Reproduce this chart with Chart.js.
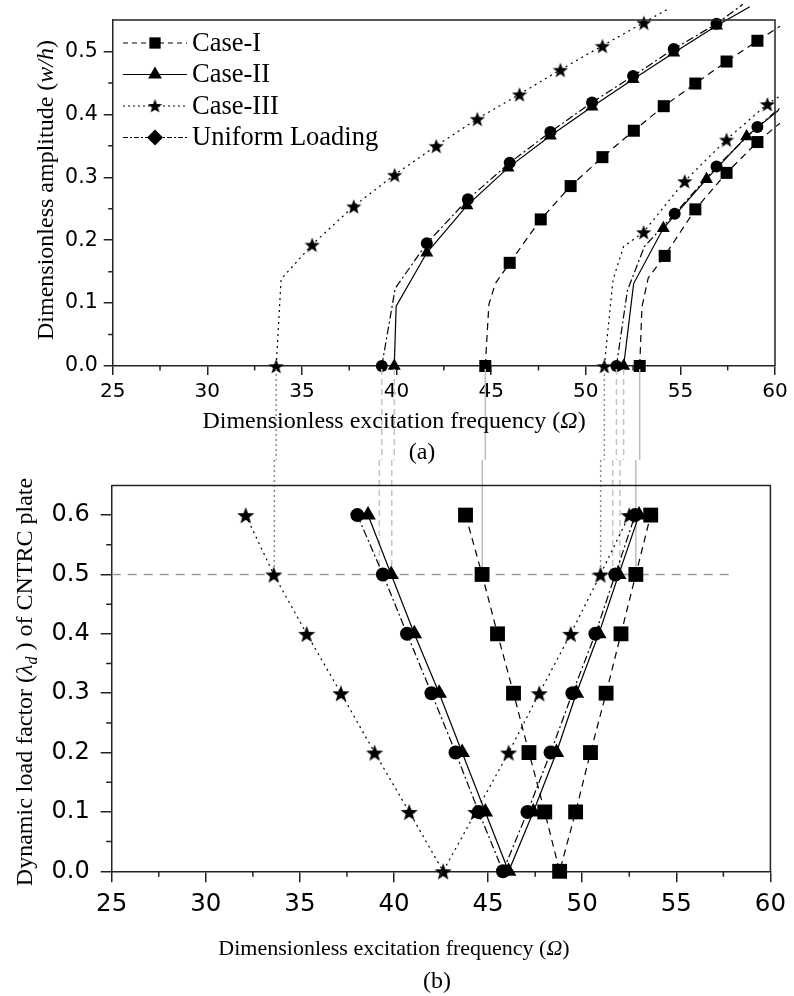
<!DOCTYPE html>
<html>
<head>
<meta charset="utf-8">
<script src="https://cdn.jsdelivr.net/npm/chart.js@4.4.1/dist/chart.umd.min.js"></script>
<style>
  html, body { margin: 0; padding: 0; background: #fff; }
  #wrap { position: relative; width: 794px; height: 996px; background: #fff; }
  canvas { position: absolute; left: 0; display: block; }
  #chartA { top: 0; }
  #chartB { top: 460px; }
</style>
</head>
<body>
<div id="wrap">
  <canvas id="chartA" width="794" height="472"></canvas>
  <canvas id="chartB" width="794" height="536"></canvas>
</div>
<script>
// (a) frequency-response curves, each point is [Ω, w/h, symbol shown]
// points with 0 are just curve nodes between the computed samples
const caseI_upper = [[44.69, 0, 1], [44.88, 0.098, 0], [45.22, 0.131, 0], [45.98, 0.164, 1], [47.62, 0.233, 1], [49.2, 0.286, 1], [50.88, 0.332, 1], [52.54, 0.374, 1], [54.12, 0.413, 1], [55.79, 0.449, 1], [57.44, 0.484, 1], [59.07, 0.517, 1], [60.26, 0.54, 0]];
const caseI_lower = [[52.85, 0, 1], [52.97, 0.094, 0], [53.3, 0.14, 0], [54.17, 0.175, 1], [55.79, 0.249, 1], [57.44, 0.307, 1], [59.07, 0.356, 1], [60.26, 0.386, 0]];
const caseII_upper = [[39.88, 0, 1], [39.98, 0.095, 0], [41.6, 0.18, 1], [43.72, 0.255, 1], [45.89, 0.315, 1], [48.13, 0.366, 1], [50.33, 0.412, 1], [52.5, 0.456, 1], [54.65, 0.498, 1], [56.91, 0.541, 1], [58.67, 0.571, 0]];
const caseII_lower = [[52.0, 0, 1], [52.53, 0.131, 0], [54.1, 0.219, 1], [56.38, 0.297, 1], [58.5, 0.365, 1], [60.2, 0.407, 0]];
const caseIII_upper = [[33.64, 0, 1], [33.9, 0.138, 0], [35.54, 0.193, 1], [37.74, 0.254, 1], [39.9, 0.304, 1], [42.1, 0.35, 1], [44.27, 0.393, 1], [46.5, 0.432, 1], [48.66, 0.471, 1], [50.88, 0.509, 1], [53.07, 0.546, 1], [54.44, 0.569, 0]];
const caseIII_lower = [[50.98, 0, 1], [51.44, 0.137, 0], [52.0, 0.19, 0], [53.06, 0.213, 1], [55.23, 0.294, 1], [57.44, 0.36, 1], [59.6, 0.4165, 1], [60.26, 0.429, 0]];
const uniform_upper = [[39.22, 0, 1], [39.93, 0.1235, 0], [41.6, 0.195, 1], [43.77, 0.265, 1], [45.98, 0.323, 1], [48.13, 0.372, 1], [50.33, 0.419, 1], [52.5, 0.461, 1], [54.65, 0.504, 1], [56.91, 0.544, 1], [58.3, 0.575, 0]];
const uniform_lower = [[51.62, 0, 1], [52.2, 0.12, 0], [53.1, 0.19, 0], [54.7, 0.242, 1], [56.91, 0.317, 1], [59.07, 0.38, 1], [60.26, 0.41, 0]];

// (b) instability region boundaries
const lambdaD = [0, 0.1, 0.2, 0.3, 0.4, 0.5, 0.6];
const caseI_left = [48.8, 48.01, 47.17, 46.35, 45.5, 44.68, 43.8];
const caseI_right = [48.8, 49.65, 50.44, 51.27, 52.06, 52.85, 53.64];
const caseII_left = [46.09, 44.85, 43.62, 42.4, 41.08, 39.85, 38.62];
const caseII_right = [46.09, 47.4, 48.63, 49.69, 50.88, 51.94, 53.02];
const caseIII_left = [42.61, 40.81, 38.97, 37.18, 35.36, 33.61, 32.12];
const caseIII_right = [42.61, 44.35, 46.09, 47.72, 49.39, 50.97, 52.5];
const uniform_left = [45.79, 44.5, 43.27, 41.99, 40.69, 39.41, 38.05];
const uniform_right = [45.79, 47.09, 48.32, 49.48, 50.7, 51.76, 52.81];

// onset frequencies of (a) carried down to λd = 0.5 in (b)
const onsetOmega = [33.64, 39.22, 39.88, 44.69, 50.98, 51.62, 52.0, 52.85];
const onsetCase = ['III', 'U', 'II', 'I', 'III', 'U', 'II', 'I'];
const refLambda = 0.5;
const refOmegaEnd = 58;

const legendNames = ['Case-I', 'Case-II', 'Case-III', 'Uniform Loading'];
const legendKeys = ['I', 'II', 'III', 'U'];

const SANS = '"DejaVu Sans", sans-serif';
const SERIF = '"Liberation Serif", "Times New Roman", serif';
const AXIS = '#222';
const SPLIT = 460; // page row where the lower canvas starts

// filled five point star, Chart.js has only the line "star"
function starImage(size) {
  const c = document.createElement('canvas');
  c.width = c.height = size;
  const g = c.getContext('2d');
  const R = size / 2, r = R * 0.42;
  g.beginPath();
  for (let i = 0; i < 10; i++) {
    const rad = i % 2 ? r : R;
    const ang = -Math.PI / 2 + i * Math.PI / 5;
    g.lineTo(R + rad * Math.cos(ang), R + 1 + rad * Math.sin(ang));
  }
  g.closePath();
  g.fillStyle = '#000';
  g.fill();
  return c;
}

const lineStyle = {
  I: { dash: [7, 5], shape: 'rect' },
  II: { dash: [], shape: 'triangle' },
  III: { dash: [2, 4], shape: 'star' },
  U: { dash: [8, 3, 2, 3], shape: 'circle' }
};
const connectorStyle = {
  I: { color: '#bdbdbd', dash: [] },
  II: { color: '#c4c4c4', dash: [6, 4] },
  III: { color: '#8c8c8c', dash: [2, 3] },
  U: { color: '#c4c4c4', dash: [6, 4] }
};

const sizesA = { rect: 8.5, triangle: 7.5, circle: 6, star: starImage(16) };
const sizesB = { rect: 10.5, triangle: 9, circle: 7, star: starImage(18) };

function curveDataset(points, key, sizes) {
  const st = lineStyle[key];
  const isStar = st.shape === 'star';
  return {
    data: points.map(p => ({ x: p[0], y: p[1] })),
    showLine: true,
    tension: 0,
    borderColor: '#000',
    borderWidth: 1.2,
    borderDash: st.dash,
    pointStyle: isStar ? sizes.star : st.shape,
    pointRadius: ctx => (points[ctx.dataIndex] && points[ctx.dataIndex][2]) ? (isStar ? 8 : sizes[st.shape]) : 0,
    pointBackgroundColor: '#000',
    pointBorderColor: '#000',
    pointBorderWidth: 0,
    clip: false
  };
}

function vShape(left, right) {
  const pts = [];
  for (let i = lambdaD.length - 1; i >= 0; i--) pts.push([left[i], lambdaD[i], 1]);
  for (let i = 1; i < lambdaD.length; i++) pts.push([right[i], lambdaD[i], 1]);
  return pts;
}

// text made of pieces in different fonts, centred on (cx, cy)
function richText(ctx, parts, cx, cy, rot, size) {
  ctx.save();
  ctx.translate(cx, cy);
  if (rot) ctx.rotate(rot);
  ctx.textAlign = 'left';
  ctx.textBaseline = 'alphabetic';
  ctx.fillStyle = '#000';
  let w = 0;
  parts.forEach(p => { ctx.font = p.font; p.w = ctx.measureText(p.t).width; w += p.w; });
  let x = -w / 2;
  parts.forEach(p => {
    ctx.font = p.font;
    ctx.fillText(p.t, x, size * 0.33 + (p.dy || 0));
    x += p.w;
  });
  ctx.restore();
}

function strokeConnector(ctx, x, y1, y2, key) {
  const s = connectorStyle[key];
  ctx.save();
  ctx.strokeStyle = s.color;
  ctx.lineWidth = 1.5;
  ctx.setLineDash(s.dash);
  ctx.beginPath();
  ctx.moveTo(x, y1);
  ctx.lineTo(x, y2);
  ctx.stroke();
  ctx.restore();
}

// top and right edges plus the short minor ticks between labelled ones
function drawFrame(chart, minorX, minorY, len) {
  const { ctx, chartArea: a, scales: { x, y } } = chart;
  ctx.save();
  ctx.strokeStyle = AXIS;
  ctx.lineWidth = 1.5;
  ctx.beginPath();
  ctx.moveTo(a.left, a.top);
  ctx.lineTo(a.right, a.top);
  ctx.lineTo(a.right, a.bottom);
  ctx.stroke();
  ctx.beginPath();
  minorX.forEach(v => {
    const px = x.getPixelForValue(v);
    ctx.moveTo(px, a.bottom);
    ctx.lineTo(px, a.bottom + len);
  });
  minorY.forEach(v => {
    const py = y.getPixelForValue(v);
    ctx.moveTo(a.left, py);
    ctx.lineTo(a.left - len, py);
  });
  ctx.stroke();
  ctx.restore();
}

const minorOmega = [27.5, 32.5, 37.5, 42.5, 47.5, 52.5, 57.5];

function axisOptions(min, max, step, fontSize, pad, tickLen, fit, isY) {
  return {
    type: 'linear',
    min, max,
    ticks: {
      stepSize: step,
      includeBounds: false,
      autoSkip: false,
      maxRotation: 0,
      color: '#000',
      padding: pad,
      font: { family: SANS, size: fontSize },
      callback: v => isY ? v.toFixed(1) : String(v)
    },
    grid: { drawOnChartArea: false, drawTicks: true, tickLength: tickLen, color: AXIS, lineWidth: 1.5 },
    border: { display: true, color: AXIS, width: 1.5 },
    afterFit: fit
  };
}

const chartA = new Chart(document.getElementById('chartA'), {
  type: 'scatter',
  data: {
    datasets: [
      curveDataset(caseI_upper, 'I', sizesA),
      curveDataset(caseI_lower, 'I', sizesA),
      curveDataset(uniform_upper, 'U', sizesA),
      curveDataset(uniform_lower, 'U', sizesA),
      curveDataset(caseII_upper, 'II', sizesA),
      curveDataset(caseII_lower, 'II', sizesA),
      curveDataset(caseIII_upper, 'III', sizesA),
      curveDataset(caseIII_lower, 'III', sizesA)
    ]
  },
  options: {
    responsive: false,
    animation: false,
    events: [],
    layout: { padding: { top: 20, right: 19, left: 0, bottom: 0 } },
    plugins: { legend: { display: false }, tooltip: { enabled: false } },
    scales: {
      x: axisOptions(25, 60, 5, 20, 5, 9, s => { s.height = 472 - 366; }, false),
      y: axisOptions(0, 0.55, 0.1, 20.5, 6, 9, s => { s.width = 112.7; }, true)
    }
  },
  plugins: [{
    id: 'decorA',
    afterDraw(chart) {
      const { ctx, scales: { x, y } } = chart;
      const y0 = y.getPixelForValue(0);
      onsetOmega.forEach((w, i) => strokeConnector(ctx, x.getPixelForValue(w), y0 + 3, SPLIT, onsetCase[i]));
      drawFrame(chart, minorOmega, [0.05, 0.15, 0.25, 0.35, 0.45], 4.5);

      richText(ctx, [
        { t: 'Dimensionless excitation frequency (', font: '24px ' + SERIF },
        { t: 'Ω', font: 'italic 24px ' + SERIF },
        { t: ')', font: '24px ' + SERIF }
      ], 394, 420, 0, 24);
      richText(ctx, [{ t: '(a)', font: '24px ' + SERIF }], 422, 451, 0, 24);
      richText(ctx, [
        { t: 'Dimensionless amplitude (', font: '24px ' + SERIF },
        { t: 'w/h', font: 'italic 24px ' + SERIF },
        { t: ')', font: '24px ' + SERIF }
      ], 45, 190, -Math.PI / 2, 24);

      // legend: line sample with the symbol in the middle
      const legendShape = { I: 'rect', II: 'triangle', III: 'star', U: 'rectRot' };
      legendKeys.forEach((k, i) => {
        const ly = 43 + i * 31.5;
        ctx.save();
        ctx.strokeStyle = '#000';
        ctx.lineWidth = 1.2;
        ctx.setLineDash(k === 'I' ? [5, 4] : k === 'III' ? [2, 3] : k === 'U' ? [5, 2, 2, 2] : []);
        ctx.beginPath();
        ctx.moveTo(123, ly);
        ctx.lineTo(187, ly);
        ctx.stroke();
        ctx.setLineDash([]);
        ctx.fillStyle = '#000';
        if (k === 'III') {
          ctx.drawImage(starImage(15), 155 - 7.5, ly - 8);
        } else {
          Chart.helpers.drawPoint(ctx, { pointStyle: legendShape[k], radius: 8, rotation: 0, borderWidth: 0 }, 155, ly);
        }
        ctx.font = '26.5px ' + SERIF;
        ctx.textBaseline = 'middle';
        ctx.textAlign = 'left';
        ctx.fillText(legendNames[i], 192, ly + 1);
        ctx.restore();
      });
    }
  }]
});

const chartB = new Chart(document.getElementById('chartB'), {
  type: 'scatter',
  data: {
    datasets: [
      {
        data: [{ x: 25, y: refLambda }, { x: refOmegaEnd, y: refLambda }],
        showLine: true,
        borderColor: '#9a9a9a',
        borderWidth: 1.5,
        borderDash: [9, 7],
        pointRadius: 0,
        order: 10
      },
      curveDataset(vShape(caseI_left, caseI_right), 'I', sizesB),
      curveDataset(vShape(caseIII_left, caseIII_right), 'III', sizesB),
      curveDataset(vShape(uniform_left, uniform_right), 'U', sizesB),
      curveDataset(vShape(caseII_left, caseII_right), 'II', sizesB)
    ]
  },
  options: {
    responsive: false,
    animation: false,
    events: [],
    layout: { padding: { top: 5, right: 18.3, left: 0, bottom: 0 } },
    plugins: { legend: { display: false }, tooltip: { enabled: false } },
    scales: {
      x: axisOptions(25, 60, 5, 24.5, 8, 11, s => { s.height = 124.7; }, false),
      y: axisOptions(0, 0.65, 0.1, 24, 11, 11, s => { s.width = 111.7; }, true)
    }
  },
  plugins: [{
    id: 'decorB',
    beforeDatasetsDraw(chart) {
      const { ctx, scales: { x, y } } = chart;
      const yRef = y.getPixelForValue(refLambda);
      onsetOmega.forEach((w, i) => strokeConnector(ctx, x.getPixelForValue(w), 0, yRef, onsetCase[i]));
    },
    afterDraw(chart) {
      const { ctx } = chart;
      drawFrame(chart, minorOmega, [0.05, 0.15, 0.25, 0.35, 0.45, 0.55], 5.5);
      richText(ctx, [
        { t: 'Dimensionless excitation frequency (', font: '22px ' + SERIF },
        { t: 'Ω', font: 'italic 22px ' + SERIF },
        { t: ')', font: '22px ' + SERIF }
      ], 394, 488, 0, 22);
      richText(ctx, [{ t: '(b)', font: '24px ' + SERIF }], 437, 520, 0, 24);
      richText(ctx, [
        { t: 'Dynamic load factor (', font: '24px ' + SERIF },
        { t: 'λ', font: 'italic 24px ' + SERIF },
        { t: 'd', font: 'italic 16px ' + SERIF, dy: 5 },
        { t: ' ) of CNTRC plate', font: '24px ' + SERIF }
      ], 24, 222, -Math.PI / 2, 24);
    }
  }]
});
</script>
</body>
</html>
